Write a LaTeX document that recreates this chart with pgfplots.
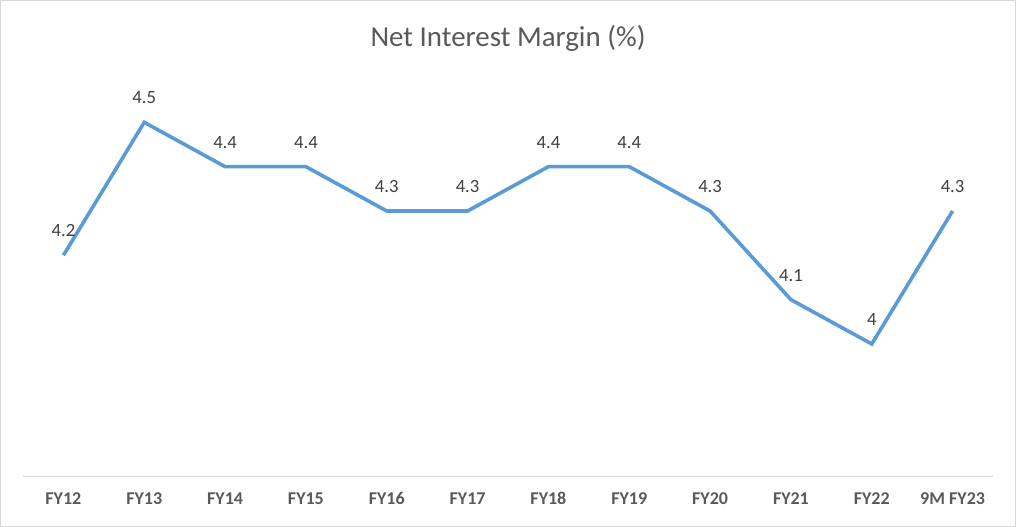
\documentclass[border=0pt]{standalone}
\usepackage{pgfplots}
\pgfplotsset{compat=1.18}
\usepackage{fontspec}
\setmainfont{Carlito}

\definecolor{nimline}{HTML}{5B9BD5}
\definecolor{labgrey}{HTML}{404040}
\definecolor{tickgrey}{HTML}{595959}
\definecolor{framegrey}{HTML}{D9D9D9}

\begin{document}
\begin{tikzpicture}
% outer frame, 1016x527 px at 0.75pt per px
\draw[framegrey, line width=1pt] (0.5pt,0.5pt) rectangle (761.5pt,394.75pt);
\node[text=tickgrey, font=\fontsize{21.7}{24}\selectfont] at (381pt,366.5pt) {Net Interest Margin (\%)};
\begin{axis}[
    at={(17.25pt,37.5pt)},
    anchor=south west,
    scale only axis,
    width=727.5pt,
    height=299.25pt,
    xmin=-0.5, xmax=11.5,
    ymin=3.7, ymax=4.6,
    hide y axis,
    axis x line=bottom,
    x axis line style={framegrey, line width=0.75pt, -},
    xtick=data,
    xticklabels={FY12,FY13,FY14,FY15,FY16,FY17,FY18,FY19,FY20,FY21,FY22,9M FY23},
    major tick length=0pt,
    xticklabel style={text=tickgrey, font=\bfseries\fontsize{13.5}{15}\selectfont, anchor=base, yshift=-21pt},
    nodes near coords,
    point meta=explicit symbolic,
    nodes near coords style={text=labgrey, font=\fontsize{14}{16}\selectfont, anchor=base, inner sep=0pt, yshift=14pt},
    clip=false,
]
\addplot[nimline, line width=2.7pt, no markers] coordinates {
    (0,4.2) [4.2]
    (1,4.5) [4.5]
    (2,4.4) [4.4]
    (3,4.4) [4.4]
    (4,4.3) [4.3]
    (5,4.3) [4.3]
    (6,4.4) [4.4]
    (7,4.4) [4.4]
    (8,4.3) [4.3]
    (9,4.1) [4.1]
    (10,4.0) [4]
    (11,4.3) [4.3]
};
\end{axis}
\end{tikzpicture}
\end{document}
